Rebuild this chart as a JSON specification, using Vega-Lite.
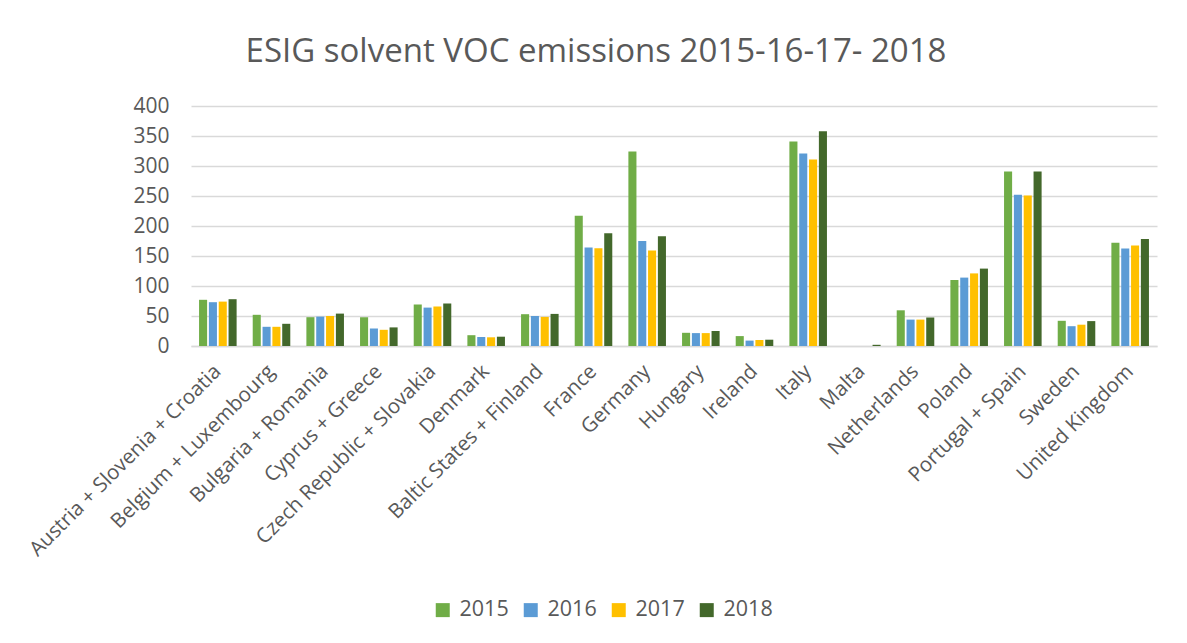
{
  "$schema": "https://vega.github.io/schema/vega-lite/v6.json",
  "width": 966,
  "height": 240,
  "autosize": {"type": "none"},
  "padding": {"left": 191, "top": 106, "right": 30, "bottom": 297},
  "background": "white",
  "title": {
    "text": "ESIG solvent VOC emissions 2015-16-17- 2018",
    "font": "Open Sans",
    "fontSize": 33,
    "fontWeight": "normal",
    "color": "#595959",
    "anchor": "middle",
    "frame": "group",
    "dx": -78,
    "offset": 26
  },
  "data": {
    "values": [
      {"country": "Austria + Slovenia + Croatia", "year": "2015", "value": 77},
      {"country": "Austria + Slovenia + Croatia", "year": "2016", "value": 73},
      {"country": "Austria + Slovenia + Croatia", "year": "2017", "value": 74},
      {"country": "Austria + Slovenia + Croatia", "year": "2018", "value": 78},
      {"country": "Belgium + Luxembourg", "year": "2015", "value": 52},
      {"country": "Belgium + Luxembourg", "year": "2016", "value": 32},
      {"country": "Belgium + Luxembourg", "year": "2017", "value": 32},
      {"country": "Belgium + Luxembourg", "year": "2018", "value": 37},
      {"country": "Bulgaria + Romania", "year": "2015", "value": 48},
      {"country": "Bulgaria + Romania", "year": "2016", "value": 49},
      {"country": "Bulgaria + Romania", "year": "2017", "value": 50},
      {"country": "Bulgaria + Romania", "year": "2018", "value": 54},
      {"country": "Cyprus + Greece", "year": "2015", "value": 48},
      {"country": "Cyprus + Greece", "year": "2016", "value": 29},
      {"country": "Cyprus + Greece", "year": "2017", "value": 27},
      {"country": "Cyprus + Greece", "year": "2018", "value": 31},
      {"country": "Czech Republic + Slovakia", "year": "2015", "value": 69},
      {"country": "Czech Republic + Slovakia", "year": "2016", "value": 64},
      {"country": "Czech Republic + Slovakia", "year": "2017", "value": 66},
      {"country": "Czech Republic + Slovakia", "year": "2018", "value": 71},
      {"country": "Denmark", "year": "2015", "value": 18},
      {"country": "Denmark", "year": "2016", "value": 15},
      {"country": "Denmark", "year": "2017", "value": 14.5},
      {"country": "Denmark", "year": "2018", "value": 15.5},
      {"country": "Baltic States + Finland", "year": "2015", "value": 53},
      {"country": "Baltic States + Finland", "year": "2016", "value": 50},
      {"country": "Baltic States + Finland", "year": "2017", "value": 48.5},
      {"country": "Baltic States + Finland", "year": "2018", "value": 53.5},
      {"country": "France", "year": "2015", "value": 217},
      {"country": "France", "year": "2016", "value": 164},
      {"country": "France", "year": "2017", "value": 163},
      {"country": "France", "year": "2018", "value": 188},
      {"country": "Germany", "year": "2015", "value": 324},
      {"country": "Germany", "year": "2016", "value": 175},
      {"country": "Germany", "year": "2017", "value": 159},
      {"country": "Germany", "year": "2018", "value": 183},
      {"country": "Hungary", "year": "2015", "value": 22},
      {"country": "Hungary", "year": "2016", "value": 21.5},
      {"country": "Hungary", "year": "2017", "value": 21.5},
      {"country": "Hungary", "year": "2018", "value": 25},
      {"country": "Ireland", "year": "2015", "value": 16.5},
      {"country": "Ireland", "year": "2016", "value": 9},
      {"country": "Ireland", "year": "2017", "value": 10},
      {"country": "Ireland", "year": "2018", "value": 10.5},
      {"country": "Italy", "year": "2015", "value": 341},
      {"country": "Italy", "year": "2016", "value": 321},
      {"country": "Italy", "year": "2017", "value": 311},
      {"country": "Italy", "year": "2018", "value": 358},
      {"country": "Malta", "year": "2015", "value": 0},
      {"country": "Malta", "year": "2016", "value": 0},
      {"country": "Malta", "year": "2017", "value": 0},
      {"country": "Malta", "year": "2018", "value": 2},
      {"country": "Netherlands", "year": "2015", "value": 59.5},
      {"country": "Netherlands", "year": "2016", "value": 44},
      {"country": "Netherlands", "year": "2017", "value": 44},
      {"country": "Netherlands", "year": "2018", "value": 47.5},
      {"country": "Poland", "year": "2015", "value": 110},
      {"country": "Poland", "year": "2016", "value": 114},
      {"country": "Poland", "year": "2017", "value": 121},
      {"country": "Poland", "year": "2018", "value": 129},
      {"country": "Portugal + Spain", "year": "2015", "value": 291},
      {"country": "Portugal + Spain", "year": "2016", "value": 252},
      {"country": "Portugal + Spain", "year": "2017", "value": 251},
      {"country": "Portugal + Spain", "year": "2018", "value": 291},
      {"country": "Sweden", "year": "2015", "value": 42},
      {"country": "Sweden", "year": "2016", "value": 33},
      {"country": "Sweden", "year": "2017", "value": 35.5},
      {"country": "Sweden", "year": "2018", "value": 41.5},
      {"country": "United Kingdom", "year": "2015", "value": 172},
      {"country": "United Kingdom", "year": "2016", "value": 162.5},
      {"country": "United Kingdom", "year": "2017", "value": 167.5},
      {"country": "United Kingdom", "year": "2018", "value": 178.5}
    ]
  },
  "mark": {"type": "bar"},
  "encoding": {
    "x": {
      "field": "country",
      "type": "nominal",
      "sort": null,
      "title": null,
      "scale": {"paddingInner": 0.3, "paddingOuter": 0.15},
      "axis": {
        "labelAngle": -45,
        "labelAlign": "right",
        "labelBaseline": "middle",
        "labelFont": "Open Sans",
        "labelFontSize": 20.5,
        "labelColor": "#595959",
        "labelPadding": 22,
        "labelLimit": 0,
        "ticks": false,
        "domainColor": "#d9d9d9",
        "domainWidth": 1.5,
        "grid": false,
        "labelOverlap": false
      }
    },
    "xOffset": {
      "field": "year",
      "type": "nominal",
      "scale": {"paddingInner": 0.18, "paddingOuter": 0}
    },
    "y": {
      "field": "value",
      "type": "quantitative",
      "title": null,
      "scale": {"domain": [0, 400]},
      "axis": {
        "values": [0, 50, 100, 150, 200, 250, 300, 350, 400],
        "labelFont": "Open Sans",
        "labelFontSize": 21,
        "labelColor": "#595959",
        "labelPadding": 22,
        "ticks": false,
        "domain": false,
        "gridColor": "#d9d9d9",
        "gridWidth": 1.5
      }
    },
    "color": {
      "field": "year",
      "type": "nominal",
      "scale": {
        "domain": ["2015", "2016", "2017", "2018"],
        "range": ["#70AD47", "#5B9BD5", "#FFC000", "#43682B"]
      },
      "legend": {
        "title": null,
        "orient": "none",
        "direction": "horizontal",
        "legendX": 241,
        "legendY": 493,
        "symbolType": "square",
        "symbolSize": 196,
        "symbolStrokeWidth": 0,
        "labelFont": "Open Sans",
        "labelFontSize": 21.5,
        "labelColor": "#595959",
        "labelOffset": 6,
        "columnPadding": 11,
        "padding": 0
      }
    }
  },
  "config": {
    "view": {"stroke": null},
    "font": "Open Sans"
  }
}
